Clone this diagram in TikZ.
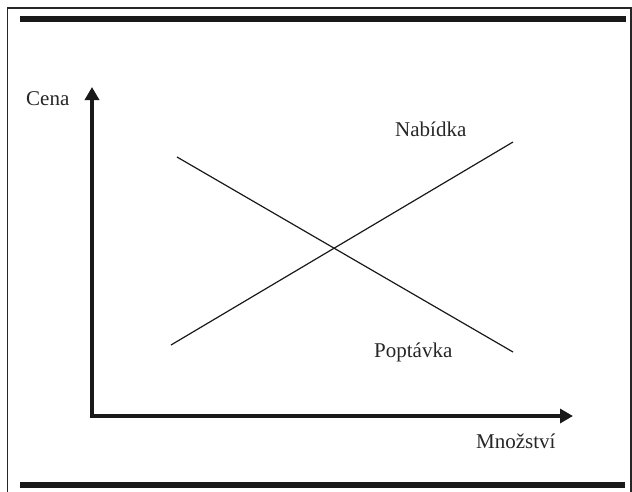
\documentclass[tikz,border=0pt]{standalone}
\usepackage{fontspec}
\setmainfont{Liberation Serif}
\usetikzlibrary{arrows.meta}
\begin{document}
\begin{tikzpicture}[x=1pt,y=-1pt,
  lbl/.style={anchor=base west,inner sep=0pt,font=\fontsize{21}{24}\selectfont,text=black!85},
  bar/.style={line width=6pt,black!90},
  axis/.style={line width=4pt,black!90,line join=miter,{Triangle[length=13pt,width=14pt]}-{Triangle[length=13pt,width=14pt]}},
  curve/.style={line width=1.2pt,black!90}]
\useasboundingbox (0,0) rectangle (632,491);
% outer frame
\draw[line width=1.5pt,black!85] (7.5,495) -- (7.5,8) -- (631.2,8) -- (631.2,495);
% thick bars
\coordinate (t1) at (20,19);
\coordinate (t2) at (626,19);
\coordinate (b1) at (20,485);
\coordinate (b2) at (625,485);
\draw[bar] (t1) -- (t2);
\draw[bar] (b1) -- (b2);
% axes
\coordinate (ytip) at (92,87);
\coordinate (orig) at (92,416);
\coordinate (xtip) at (573,416);
\draw[axis] (ytip) -- (orig) -- (xtip);
% curves
\coordinate (s1) at (171,345);
\coordinate (s2) at (513,142);
\coordinate (d1) at (177,157);
\coordinate (d2) at (513,352);
\draw[curve] (s1) -- (s2);
\draw[curve] (d1) -- (d2);
% labels
\node[lbl] (cena) at (26,105) {Cena};
\node[lbl] (mnoz) at (476,448) {Množství};
\node[lbl] (nab) at (395,136) {Nabídka};
\node[lbl] (pop) at (374,357) {Poptávka};
\end{tikzpicture}
\end{document}
